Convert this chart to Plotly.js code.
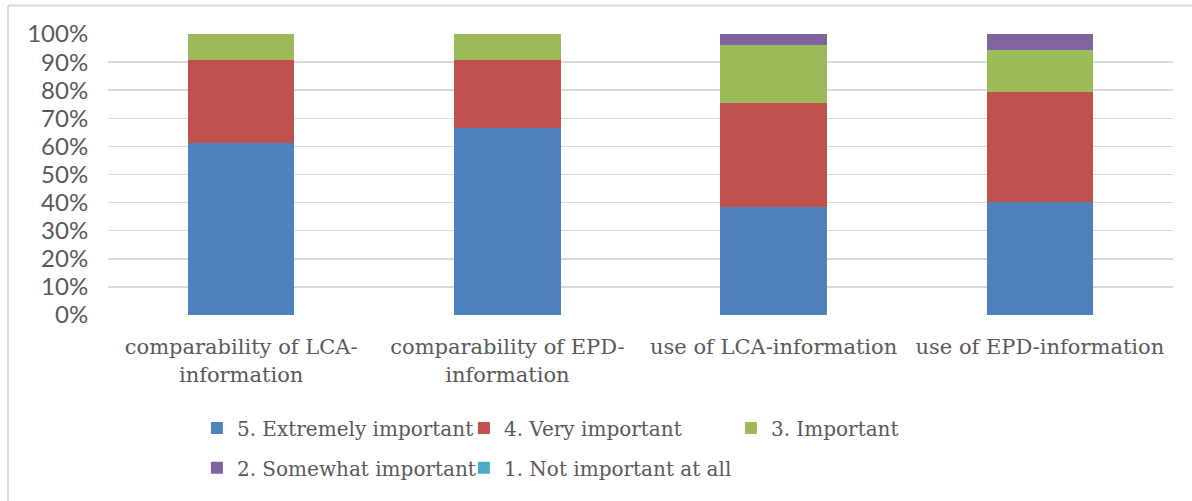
<!DOCTYPE html>
<html>
<head>
<meta charset="utf-8">
<script src="https://cdn.plot.ly/plotly-3.0.1.min.js"></script>
<style>html,body{margin:0;padding:0;background:#fff;}#chart{width:1192px;height:501px;}</style>
</head>
<body>
<div id="chart"></div>
<script>
const categories = ["comparability of LCA-<br>information", "comparability of EPD-<br>information", "use of LCA-information", "use of EPD-information"];
const seriesNames = ["5. Extremely important", "4. Very important", "3. Important", "2. Somewhat important", "1. Not important at all"];
const extremely = [61.1, 66.7, 38.4, 40.3];
const very = [29.6, 24.0, 37.2, 39.0];
const important = [9.3, 9.3, 20.5, 15.0];
const somewhat = [0, 0, 3.9, 5.7];
const notAtAll = [0, 0, 0, 0];
const tickVals = [0, 10, 20, 30, 40, 50, 60, 70, 80, 90, 100];
const tickText = ["0%", "10%", "20%", "30%", "40%", "50%", "60%", "70%", "80%", "90%", "100%"];

const colors = ["#4F81BD", "#C0504D", "#9BBB59", "#8064A2", "#4BACC6"];
const values = [extremely, very, important, somewhat, notAtAll];
const legendOf = ["legend", "legend", "legend", "legend2", "legend2"];

const serif = "'DejaVu Serif', serif";
const traces = values.map((v, i) => ({
  type: "bar",
  name: seriesNames[i],
  x: categories,
  y: v,
  marker: {color: colors[i], line: {width: 0}},
  legend: legendOf[i],
  hoverinfo: "skip"
}));

const legendCommon = {
  orientation: "h",
  xanchor: "left",
  yanchor: "middle",
  font: {family: serif, size: 20, color: "#595959"},
  entrywidth: 222,
  entrywidthmode: "pixels",
  bgcolor: "rgba(0,0,0,0)",
  traceorder: "normal"
};

const layout = {
  width: 1192,
  height: 501,
  margin: {l: 108, r: 19, t: 34, b: 186},
  paper_bgcolor: "#fff",
  plot_bgcolor: "#fff",
  barmode: "stack",
  bargap: 0.6,
  showlegend: true,
  xaxis: {
    type: "category",
    showgrid: false,
    zeroline: false,
    showline: false,
    ticks: "outside",
    ticklen: 13,
    tickcolor: "rgba(0,0,0,0)",
    tickfont: {family: serif, size: 21, color: "#595959"}
  },
  yaxis: {
    range: [0, 100],
    tickvals: tickVals,
    ticktext: tickText,
    showgrid: true,
    gridcolor: "#D9D9D9",
    gridwidth: 1.5,
    zeroline: false,
    showline: false,
    ticks: "outside",
    ticklen: 14,
    tickcolor: "rgba(0,0,0,0)",
    tickfont: {family: "Lato, sans-serif", size: 24, color: "#595959"}
  },
  legend: Object.assign({}, legendCommon, {x: 0.0835, y: -0.402}),
  legend2: Object.assign({}, legendCommon, {x: 0.0835, y: -0.544}),
  shapes: [
    {type: "line", xref: "paper", yref: "paper", x0: -0.0939, x1: 1.02, y0: 1.1014, y1: 1.1014, line: {color: "#D9D9D9", width: 2}},
    {type: "line", xref: "paper", yref: "paper", x0: -0.0939, x1: -0.0939, y0: 1.1014, y1: -0.662, line: {color: "#D9D9D9", width: 2}}
  ]
};

Plotly.newPlot("chart", traces, layout, {displayModeBar: false, staticPlot: true});
</script>
</body>
</html>
